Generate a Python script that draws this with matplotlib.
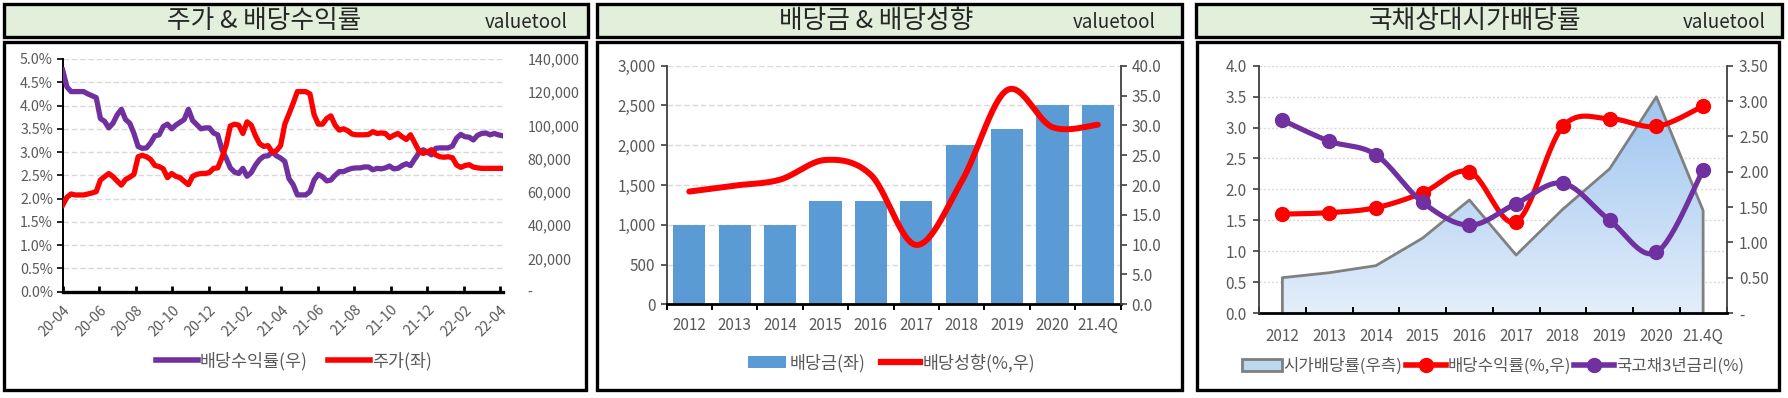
import numpy as np
import pandas as pd
import matplotlib
matplotlib.use("Agg")
import matplotlib.pyplot as plt
from matplotlib.patches import Rectangle, Patch
from matplotlib.lines import Line2D
from matplotlib.ticker import FuncFormatter, FixedLocator
from matplotlib.colors import LinearSegmentedColormap

plt.rcParams['font.family'] = ['Noto Sans CJK KR', 'DejaVu Sans']

# ---------------- data ----------------
# Panel 1: weekly dividend yield (%) and share price (won)
p1_start = '2020-04-01'
p1_yield = [4.76, 4.40, 4.30, 4.30, 4.30, 4.30, 4.25, 4.21, 4.17, 3.72,
            3.66, 3.52, 3.62, 3.80, 3.92, 3.70, 3.62, 3.40, 3.12, 3.08,
            3.09, 3.20, 3.35, 3.37, 3.55, 3.60, 3.50, 3.58, 3.64, 3.70,
            3.92, 3.68, 3.59, 3.50, 3.52, 3.52, 3.41, 3.37, 3.05, 2.87,
            2.66, 2.57, 2.54, 2.65, 2.48, 2.56, 2.72, 2.84, 2.91, 2.92,
            3.00, 2.92, 2.87, 2.80, 2.43, 2.30, 2.08, 2.08, 2.08, 2.15,
            2.40, 2.52, 2.47, 2.38, 2.40, 2.50, 2.58, 2.58, 2.62, 2.65,
            2.66, 2.66, 2.68, 2.68, 2.62, 2.65, 2.64, 2.66, 2.70, 2.64,
            2.65, 2.71, 2.75, 2.71, 2.85, 2.98, 3.05, 3.00, 2.94, 3.08,
            3.09, 3.09, 3.09, 3.13, 3.30, 3.38, 3.33, 3.32, 3.26, 3.36,
            3.40, 3.41, 3.37, 3.40, 3.37, 3.35]
p1_price = [52100, 56800, 58800, 58200, 58200, 58200, 58800, 59400, 60200, 67200,
            69200, 71100, 69200, 66600, 64100, 67500, 68900, 70600, 81200, 82000,
            81200, 79500, 75900, 75300, 73900, 68600, 71100, 69400, 68600, 66400,
            64400, 69400, 70600, 71100, 71100, 71700, 74200, 74500, 80600, 88200,
            99700, 100800, 100200, 95200, 102200, 100200, 93800, 89000, 87400, 87900,
            84000, 84800, 87900, 100800, 107000, 113400, 120400, 120400, 120400, 119000,
            106400, 100800, 100800, 104200, 105800, 100200, 97200, 98000, 96900, 94900,
            94400, 94400, 94400, 94600, 96300, 95200, 95500, 95200, 92700, 94100,
            95200, 93200, 91600, 94400, 89600, 84800, 83200, 84000, 85400, 82300,
            81200, 80900, 81200, 80600, 76200, 74800, 75900, 76400, 75000, 74500,
            74200, 74200, 74200, 74200, 74200, 74200]

# Panel 2 / 3 categories
years = ['2012', '2013', '2014', '2015', '2016', '2017', '2018', '2019', '2020', '21.4Q']
dps = [1000, 1000, 1000, 1300, 1300, 1300, 2000, 2200, 2500, 2500]
payout = [18.9, 19.9, 20.9, 24.2, 21.7, 9.95, 20.6, 35.9, 29.7, 30.1]

# Panel 3
mkt_div_yield = [0.50, 0.57, 0.67, 1.06, 1.60, 0.82, 1.47, 2.04, 3.06, 1.45]   # 시가배당률 (right)
div_yield = [1.40, 1.42, 1.49, 1.70, 2.00, 1.29, 2.64, 2.75, 2.64, 2.93]       # 배당수익률 (right)
ktb3y = [3.12, 2.78, 2.56, 1.79, 1.42, 1.77, 2.10, 1.50, 0.98, 2.31]           # 국고채3년금리 (left)

titles = ['주가 & 배당수익률', '배당금 & 배당성향', '국채상대시가배당률']

# ---------------- style ----------------
W, H = 1788, 398
GRAY = '#595959'
PURPLE = '#7030A0'
RED = '#FF0000'
BLUE = '#5B9BD5'
GRID = '#D9D9D9'

fig = plt.figure(figsize=(W / 100, H / 100), dpi=100)
fig.patch.set_facecolor('white')


def rect(x0, y0, x1, y1):
    return [x0 / W, 1 - y1 / H, (x1 - x0) / W, (y1 - y0) / H]


def smooth(x, y, n=30):
    P = np.column_stack([np.asarray(x, float), np.asarray(y, float)])
    out = []
    for i in range(len(P) - 1):
        p0 = P[i - 1] if i > 0 else P[i]
        p1, p2 = P[i], P[i + 1]
        p3 = P[i + 2] if i + 2 < len(P) else P[i + 1]
        c1 = p1 + (p2 - p0) / 6
        c2 = p2 - (p3 - p1) / 6
        t = np.linspace(0, 1, n, endpoint=(i == len(P) - 2))[:, None]
        out.append((1 - t) ** 3 * p1 + 3 * (1 - t) ** 2 * t * c1 + 3 * (1 - t) * t ** 2 * c2 + t ** 3 * p2)
    S = np.vstack(out)
    return S[:, 0], S[:, 1]


# background frames
bg = fig.add_axes([0, 0, 1, 1])
bg.set_xlim(0, W)
bg.set_ylim(H, 0)
bg.axis('off')
title_boxes = [(4, 4, 588, 37), (597, 4, 1182, 37), (1196, 4, 1782, 37)]
chart_boxes = [(4, 42, 586, 390), (597, 42, 1182, 390), (1197, 42, 1779, 390)]
title_cx = [264, 876, 1475]
vt_x = [568, 1156, 1766]
for (x0, y0, x1, y1) in title_boxes:
    bg.add_patch(Rectangle((x0, y0), x1 - x0, y1 - y0, facecolor='#E2EFDA', edgecolor='black', lw=2.4))
for (x0, y0, x1, y1) in chart_boxes:
    bg.add_patch(Rectangle((x0, y0), x1 - x0, y1 - y0, facecolor='white', edgecolor='black', lw=2.4))
for t, cx, vx in zip(titles, title_cx, vt_x):
    bg.text(cx, 21, t, ha='center', va='center', fontsize=18.5, color='#262626')
    bg.text(vx, 23, 'valuetool', ha='right', va='center', fontsize=13.5, color='#262626')

# ---------------- panel 1 ----------------
ax1 = fig.add_axes(rect(62.7, 59, 502.7, 291.7))
ax1.patch.set_alpha(0)
dates = pd.date_range(p1_start, periods=len(p1_yield), freq='7D')
ax1.plot(dates, p1_yield, color=PURPLE, lw=3.8, solid_joinstyle='round', zorder=3)
ax1.set_ylim(0, 5)
ax1.set_yticks(np.arange(0, 5.01, 0.5))
ax1.yaxis.set_major_formatter(FuncFormatter(lambda v, p: f'{v:.1f}%'))
ax1.set_xlim(dates[0], dates[-1])
xt = pd.date_range('2020-04-01', '2022-04-01', freq='2MS')
ax1.set_xticks(xt)
ax1.set_xticklabels([d.strftime('%y-%m') for d in xt], rotation=45, ha='right',
                    rotation_mode='anchor', fontsize=10.3, color=GRAY)
ax1.grid(axis='y', color=GRID, lw=1, ls=(0, (4, 2)))
ax1.set_axisbelow(True)
for s in ['top', 'right']:
    ax1.spines[s].set_visible(False)
ax1.spines['left'].set_color('black')
ax1.spines['left'].set_linewidth(1.4)
ax1.spines['bottom'].set_color('black')
ax1.spines['bottom'].set_linewidth(2.4)
ax1.tick_params(axis='y', labelsize=10.3, labelcolor=GRAY, length=4, width=1.2, color='black', pad=3)
ax1.tick_params(axis='x', direction='in', length=4, width=2, color='black', pad=8)

ax1b = ax1.twinx()
ax1b.plot(dates, p1_price, color=RED, lw=3.8, solid_joinstyle='round', zorder=3)
ax1b.set_ylim(0, 140000)
ax1b.set_yticks(np.arange(0, 140001, 20000))
ax1b.yaxis.set_major_formatter(FuncFormatter(lambda v, p: '-' if v == 0 else f'{v:,.0f}'))
for lab in ax1b.get_yticklabels():
    lab.set_ha('left')
ax1b.tick_params(axis='y', length=0, labelsize=10.3, labelcolor=GRAY, pad=18)
for s in ax1b.spines.values():
    s.set_visible(False)
ax1b.set_xlim(dates[0], dates[-1])

fig.legend([Line2D([], [], color=PURPLE, lw=4), Line2D([], [], color=RED, lw=4)],
           ['배당수익률(우)', '주가(좌)'], loc='center', bbox_to_anchor=(294 / W, 1 - 361 / H),
           ncol=2, frameon=False, fontsize=12.5, handlelength=2.4, handletextpad=0.1,
           columnspacing=1.2, labelcolor=GRAY)

# ---------------- panel 2 ----------------
ax2 = fig.add_axes(rect(666.6, 65.7, 1120.5, 304.3))
ax2.patch.set_alpha(0)
x = np.arange(len(years))
ax2.bar(x, dps, width=0.71, color=BLUE, zorder=2)
ax2.set_xlim(-0.5, len(years) - 0.5)
ax2.set_ylim(0, 3000)
ax2.set_yticks(np.arange(0, 3001, 500))
ax2.yaxis.set_major_formatter(FuncFormatter(lambda v, p: f'{v:,.0f}'))
ax2.set_xticks(x)
ax2.set_xticklabels(years, fontsize=11, color=GRAY)
ax2.xaxis.set_minor_locator(FixedLocator(np.arange(-0.5, len(years), 1.0)))
ax2.tick_params(axis='x', which='major', length=0, pad=9)
ax2.tick_params(axis='x', which='minor', direction='out', length=4, width=1.4, color='black')
ax2.tick_params(axis='y', labelsize=11, labelcolor=GRAY, length=4, width=1.2, color='#404040', pad=4)
ax2.grid(axis='y', color=GRID, lw=1, ls=(0, (4, 2)))
ax2.set_axisbelow(True)
ax2.spines['top'].set_visible(False)
ax2.spines['right'].set_visible(False)
ax2.spines['left'].set_color('#404040')
ax2.spines['left'].set_linewidth(1.3)
ax2.spines['bottom'].set_color('black')
ax2.spines['bottom'].set_linewidth(2.0)

ax2b = ax2.twinx()
sx, sy = smooth(x, payout)
ax2b.plot(sx, sy, color=RED, lw=4.3, solid_capstyle='round', zorder=3)
ax2b.set_ylim(0, 40)
ax2b.set_yticks(np.arange(0, 40.1, 5))
ax2b.yaxis.set_major_formatter(FuncFormatter(lambda v, p: f'{v:.1f}'))
ax2b.tick_params(axis='y', labelsize=11, labelcolor=GRAY, length=4, width=1.2, color='#404040', pad=4)
for s in ['top', 'left', 'bottom']:
    ax2b.spines[s].set_visible(False)
ax2b.spines['right'].set_color('#404040')
ax2b.spines['right'].set_linewidth(1.3)
ax2b.set_xlim(-0.5, len(years) - 0.5)

fig.legend([Patch(facecolor=BLUE), Line2D([], [], color=RED, lw=4.5)],
           ['배당금(좌)', '배당성향(%,우)'], loc='center', bbox_to_anchor=(892 / W, 1 - 363 / H),
           ncol=2, frameon=False, fontsize=12.5, handlelength=2.2, handletextpad=0.2,
           columnspacing=0.9, labelcolor=GRAY)

# ---------------- panel 3 ----------------
# ax3: right-axis series (area, red); ax3b: left-axis series (purple), drawn on top
ax3 = fig.add_axes(rect(1259, 65.7, 1726.5, 313))
ax3.patch.set_alpha(0)
ax3b = ax3.twinx()
ax3.set_xlim(-0.5, len(years) - 0.5)
ax3.set_ylim(0, 3.5)
ax3b.set_ylim(0, 4.0)
ax3b.set_xlim(-0.5, len(years) - 0.5)

# gridlines at the left-axis ticks, drawn behind the area
left_ticks = np.arange(0, 4.01, 0.5)
for v in left_ticks[1:]:
    ax3.axhline(v * 3.5 / 4.0, color=GRID, lw=1, ls=(0, (1.5, 1.5)), zorder=0)

poly = ax3.fill_between(x, 0, mkt_div_yield, facecolor='none', edgecolor='none')
cmap = LinearSegmentedColormap.from_list('g', ['#E3EEFA', '#9EC5F0'])
grad = np.linspace(0, 1, 256)[:, None]
img = ax3.imshow(grad, cmap=cmap, aspect='auto', origin='lower',
                 extent=[x[0], x[-1], 0, max(mkt_div_yield)], zorder=1)
img.set_clip_path(poly.get_paths()[0], transform=ax3.transData)
ax3.set_xlim(-0.5, len(years) - 0.5)
ax3.set_ylim(0, 3.5)
ax3.plot(np.r_[x[0], x, x[-1]], np.r_[0, mkt_div_yield, 0], color='#808080', lw=2, zorder=2)
rx, ry = smooth(x, div_yield)
ax3.plot(rx, ry, color=RED, lw=3.7, zorder=3)
ax3.plot(x, div_yield, ls='none', marker='o', ms=10, color=RED, zorder=3)

ax3.yaxis.tick_right()
ax3.yaxis.set_label_position('right')
ax3.set_yticks(np.arange(0, 3.51, 0.5))
ax3.yaxis.set_major_formatter(FuncFormatter(lambda v, p: '-' if v == 0 else f'{v:.2f}'))
ax3.tick_params(axis='y', labelsize=11, labelcolor=GRAY, length=4, width=1.2, color='#404040', pad=5)
ax3.set_xticks(x)
ax3.set_xticklabels(years, fontsize=11, color=GRAY)
ax3.xaxis.set_minor_locator(FixedLocator(np.arange(-0.5, len(years), 1.0)))
ax3.tick_params(axis='x', which='major', length=0, pad=11)
ax3.tick_params(axis='x', which='minor', direction='in', length=4, width=1.4, color='black')
for s in ['top', 'left']:
    ax3.spines[s].set_visible(False)
ax3.spines['right'].set_color('#404040')
ax3.spines['right'].set_linewidth(1.3)
ax3.spines['bottom'].set_color('black')
ax3.spines['bottom'].set_linewidth(2.0)

ax3b.yaxis.tick_left()
ax3b.yaxis.set_label_position('left')
ax3b.set_yticks(left_ticks)
ax3b.yaxis.set_major_formatter(FuncFormatter(lambda v, p: f'{v:.1f}'))
ax3b.tick_params(axis='y', labelsize=11, labelcolor=GRAY, length=4, width=1.2, color='#404040', pad=5)
px_, py_ = smooth(x, ktb3y)
ax3b.plot(px_, py_, color=PURPLE, lw=3.7, zorder=4)
ax3b.plot(x, ktb3y, ls='none', marker='o', ms=10, color=PURPLE, zorder=4)
for s in ['top', 'right', 'bottom']:
    ax3b.spines[s].set_visible(False)
ax3b.spines['left'].set_color('#404040')
ax3b.spines['left'].set_linewidth(1.3)

fig.legend([Patch(facecolor='#BDD7EE', edgecolor='#7F7F7F', lw=2),
            Line2D([], [], color=RED, lw=4, marker='o', ms=10),
            Line2D([], [], color=PURPLE, lw=4, marker='o', ms=10)],
           ['시가배당률(우측)', '배당수익률(%,우)', '국고채3년금리(%)'], loc='center',
           bbox_to_anchor=(1493 / W, 1 - 366 / H), ncol=3, frameon=False, fontsize=12,
           handlelength=2.4, handletextpad=0.1, columnspacing=0.2, labelcolor=GRAY, numpoints=1)

fig.savefig('out.png', dpi=100, facecolor='white')
